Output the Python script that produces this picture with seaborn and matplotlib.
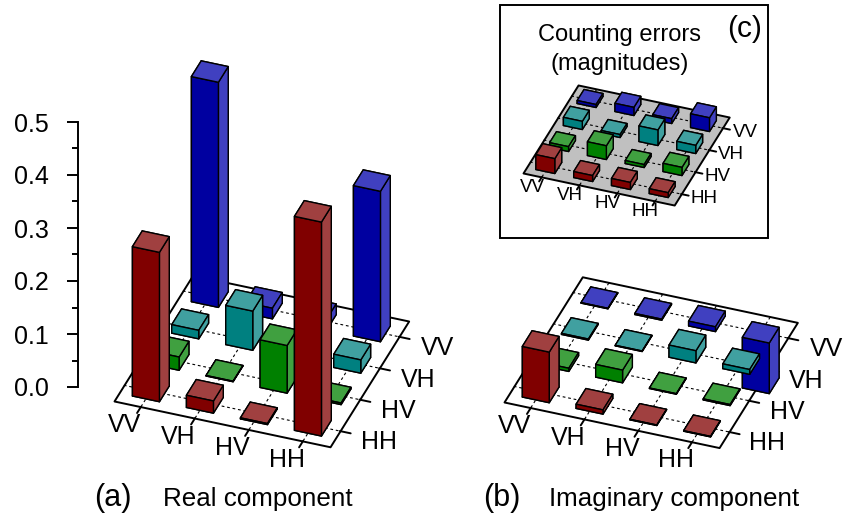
import numpy as np
import matplotlib
matplotlib.use("Agg")
import matplotlib.pyplot as plt
from matplotlib.patches import Rectangle
from mpl_toolkits.mplot3d import proj3d
from mpl_toolkits.mplot3d.art3d import Poly3DCollection
import seaborn as sns

# Data, one list per row of the matrix (columns VV, VH, HV, HH)
labels = ["VV", "VH", "HV", "HH"]
real_vv = [0.425, 0.020, 0.020, 0.284]
real_vh = [0.016, 0.074, 0.020, 0.025]
real_hv = [0.025, 0.001, 0.090, 0.003]
real_hh = [0.282, 0.023, 0.002, 0.404]
imag_vv = [0.001, 0.002, 0.009, -0.096]
imag_vh = [0.002, 0.001, 0.023, 0.009]
imag_hv = [0.006, 0.024, 0.001, 0.002]
imag_hh = [0.096, 0.008, 0.001, 0.001]
err_vv = [0.008, 0.022, 0.013, 0.037]
err_vh = [0.022, 0.008, 0.042, 0.022]
err_hv = [0.013, 0.037, 0.008, 0.022]
err_hh = [0.040, 0.016, 0.019, 0.013]

# side colours and top colours, by row
dark = ["#0000a0", "#008080", "#008000", "#800000"]
light = ["#4040c0", "#40a0a0", "#40a040", "#a04040"]

W, H = 844, 517
sns.set_theme(style="white", rc={"text.color": "black", "axes.edgecolor": "black",
                                 "xtick.color": "black", "ytick.color": "black"})
plt.rcParams["font.family"] = "Liberation Sans"

fig = plt.figure(figsize=(W / 100, H / 100), dpi=100)
fig.patch.set_facecolor("white")


def floor_px(ax, x, y):
    xp, yp, _ = proj3d.proj_transform(x, y, 0, ax.get_proj())
    return ax.transData.transform((xp, yp))


def draw_panel(rows, front_left, front_right, floor="white", fs=18, lab_b=-0.62, lab_a=4.75, lab_off=0.41):
    ax = fig.add_axes([0, 0, 600 / W, 600 / H], projection="3d", proj_type="ortho",
                      computed_zorder=False)
    ax.set_axis_off()
    ax.patch.set_alpha(0)

    verts = [[(0, 0, 0), (4, 0, 0), (4, 4, 0), (0, 4, 0)]]
    ax.add_collection3d(Poly3DCollection(verts, facecolor=floor, edgecolor="black",
                                         linewidth=1.4, zorder=1))
    for k in np.arange(4) + 0.5:
        ax.plot([k, k], [0, 4], [0, 0], color="black", lw=0.8, ls=(0, (2.5, 2.5)), zorder=2)
        ax.plot([0, 4], [k, k], [0, 0], color="black", lw=0.8, ls=(0, (2.5, 2.5)), zorder=2)
        ax.plot([k, k], [-0.2, 0], [0, 0], color="black", lw=1.4, zorder=2, clip_on=False)
        ax.plot([4, 4.2], [k, k], [0, 0], color="black", lw=1.4, zorder=2, clip_on=False)

    # back row first, then left to right, so nearer bars paint over farther ones
    order = 3
    for r, row in enumerate(rows):
        j = 3 - r
        for i, val in enumerate(row):
            faces = [light[r], light[r], dark[r], dark[r], light[r], light[r]]
            bar = ax.bar3d(i + 0.25, j + 0.25, min(0, val), 0.5, 0.5, abs(val), color=faces,
                           shade=False, edgecolor="black", linewidth=1.0)
            bar.set_zorder(order)
            bar.set_clip_on(False)
            order += 1

    ax.set_xlim(0, 4)
    ax.set_ylim(0, 4)
    ax.set_zlim(0, 0.6)
    ax.view_init(elev=35.6, azim=-70)
    ax.set_box_aspect((1, 1, 1.7))

    # scale and move the axes so that the floor's front edge lands where it should
    fig.canvas.draw()
    p0, p1 = floor_px(ax, 0, 0), floor_px(ax, 4, 0)
    want0 = np.array([front_left[0], H - front_left[1]], dtype=float)
    want1 = np.array([front_right[0], H - front_right[1]], dtype=float)
    zoom = np.linalg.norm(want1 - want0) / np.linalg.norm(p1 - p0)
    ax.set_box_aspect((1, 1, 1.7), zoom=zoom)
    fig.canvas.draw()
    p0 = floor_px(ax, 0, 0)
    shift = want0 - p0
    ax.set_position([shift[0] / W, shift[1] / H, 600 / W, 600 / H])
    fig.canvas.draw()

    # tick names beside the floor, placed where the floor coordinates project to
    for i, name in enumerate(labels):
        px = floor_px(ax, i + 0.42, lab_b)
        fig.text(px[0] / W, px[1] / H, name, fontsize=fs, ha="center", va="center", zorder=5)
        px = floor_px(ax, lab_a, 3 - i + lab_off)
        fig.text(px[0] / W, px[1] / H, name, fontsize=fs, ha="center", va="center", zorder=5)
    return ax


draw_panel([real_vv, real_vh, real_hv, real_hh], (114, 401), (330, 447))
draw_panel([imag_vv, imag_vh, imag_hv, imag_hh], (504, 402), (719, 448))

# inset frame for (c)
fig.add_artist(Rectangle((500 / W, 1 - 238 / H), 268 / W, 233 / H, transform=fig.transFigure,
                         facecolor="white", edgecolor="black", linewidth=1.4, zorder=0))
draw_panel([err_vv, err_vh, err_hv, err_hh], (523, 173), (674, 206), floor="#c0c0c0", fs=13.5,
           lab_b=-0.5, lab_a=4.6, lab_off=0.5)

# z axis of panel (a)
zax = fig.add_axes([78 / W, 1 - 387 / H, 1 / W, 265 / H])
zax.patch.set_alpha(0)
zax.set_ylim(0, 0.5)
zax.set_xticks([])
zax.set_yticks([0, 0.1, 0.2, 0.3, 0.4, 0.5])
zax.set_yticks(np.arange(0.05, 0.5, 0.1), minor=True)
zax.set_yticklabels(["0.0", "0.1", "0.2", "0.3", "0.4", "0.5"], fontsize=18)
zax.tick_params(axis="y", which="major", direction="out", left=True, length=8, width=1.4, pad=13)
zax.tick_params(axis="y", which="minor", direction="out", left=True, length=4, width=1.4)
sns.despine(ax=zax, top=True, right=True, bottom=True)
zax.spines["left"].set_linewidth(1.4)


def label(x, y, s, fs):
    fig.text(x / W, 1 - y / H, s, fontsize=fs, ha="center", va="center")


label(113, 498, "(a)", 22)
label(257.5, 499, "Real component", 18.7)
label(502, 498, "(b)", 22)
label(674, 499, "Imaginary component", 18.7)
label(620, 35, "Counting errors", 17)
label(620, 64, "(magnitudes)", 17)
label(745, 29, "(c)", 21.5)

fig.savefig("out.png", dpi=100)
